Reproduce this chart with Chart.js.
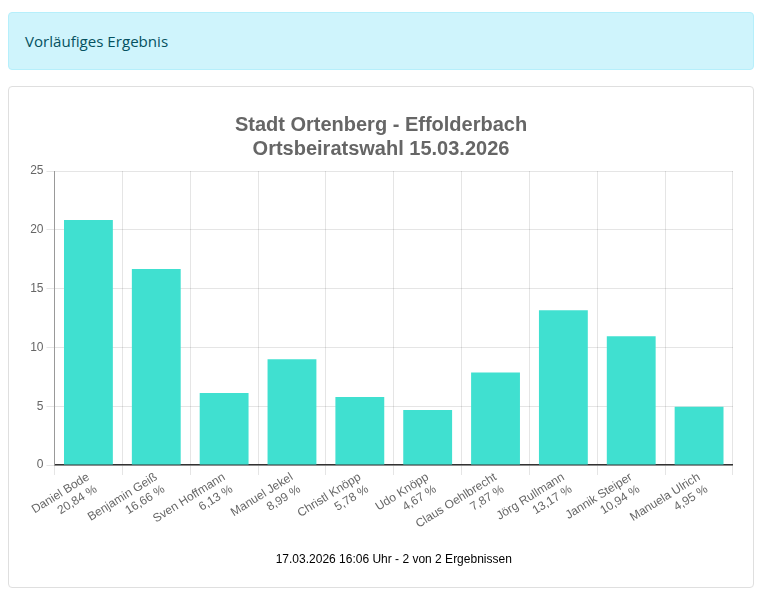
<!DOCTYPE html>
<html lang="de">
<head>
<meta charset="utf-8">
<title>Ortsbeiratswahl</title>
<script src="https://cdn.jsdelivr.net/npm/chart.js@4/dist/chart.umd.min.js"></script>
<style>
  html, body { margin: 0; padding: 0; background: #fff; }
  body { width: 763px; height: 597px; position: relative; overflow: hidden; font-family: "Open Sans", sans-serif; }
  .alert {
    position: absolute; left: 8px; top: 12px; width: 746px; height: 58px; box-sizing: border-box;
    background: #cff4fc; border: 1px solid #b6effb; border-radius: 4px; color: #055160;
    font-size: 15.1px; line-height: 56px; padding-left: 16px;
  }
  .card {
    position: absolute; left: 8px; top: 86px; width: 746px; height: 502px; box-sizing: border-box;
    border: 1px solid #dfdfdf; border-radius: 4px; background: #fff;
  }
  #wrap { position: absolute; left: 20px; top: 17px; width: 704px; height: 479px; }
</style>
</head>
<body>
<div class="alert">Vorläufiges Ergebnis</div>
<div class="card">
  <div id="wrap"><canvas id="chart"></canvas></div>
</div>
<script>
const candidates = ['Daniel Bode', 'Benjamin Geiß', 'Sven Hoffmann', 'Manuel Jekel', 'Christl Knöpp', 'Udo Knöpp', 'Claus Oehlbrecht', 'Jörg Rullmann', 'Jannik Steiper', 'Manuela Ulrich'];
const percents = [20.84, 16.66, 6.13, 8.99, 5.78, 4.67, 7.87, 13.17, 10.94, 4.95];
const titleLines = ['Stadt Ortenberg - Effolderbach', 'Ortsbeiratswahl 15.03.2026'];
const footerText = '17.03.2026 16:06 Uhr - 2 von 2 Ergebnissen';

const labels = candidates.map((name, i) => [name, percents[i].toFixed(2).replace('.', ',') + ' %']);
const fontName = '"Liberation Sans", Arial, sans-serif';

new Chart(document.getElementById('chart'), {
  type: 'bar',
  data: {
    labels: labels,
    datasets: [{ data: percents, backgroundColor: '#40e0d0' }]
  },
  options: {
    responsive: true,
    maintainAspectRatio: false,
    animation: false,
    plugins: {
      legend: { display: false },
      tooltip: { enabled: false },
      title: {
        display: true,
        text: titleLines,
        color: '#666',
        font: { family: fontName, size: 20, weight: 'bold', lineHeight: 1.2 },
        padding: { top: 9, bottom: 10 }
      }
    },
    scales: {
      x: {
        afterFit: scale => { scale.paddingLeft = 0; },
        border: { color: '#333', width: 1.5 },
        grid: { color: 'rgba(0,0,0,0.1)', tickLength: 10 },
        ticks: { color: '#666', padding: -5, font: { family: fontName, size: 12 }, maxRotation: 32, minRotation: 32 },
        title: {
          display: true,
          text: footerText,
          color: '#000',
          font: { family: fontName, size: 12 },
          padding: { top: 14, bottom: 16 }
        }
      },
      y: {
        min: 0,
        max: 25,
        afterFit: scale => { scale.width = 25.5; },
        border: { color: '#999', width: 1 },
        grid: { color: 'rgba(0,0,0,0.1)', tickLength: 8 },
        ticks: { stepSize: 5, color: '#666', font: { family: fontName, size: 12 } }
      }
    }
  }
});
</script>
</body>
</html>
